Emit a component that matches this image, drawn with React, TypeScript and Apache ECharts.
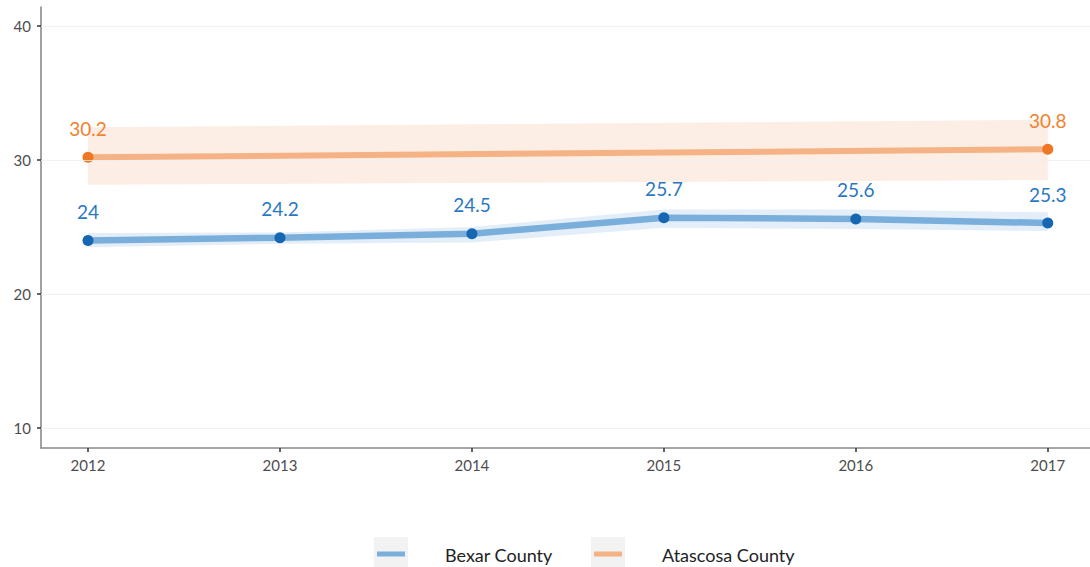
import React, { useEffect, useRef } from "react";
import * as echarts from "echarts";

const years = [2012, 2013, 2014, 2015, 2016, 2017];
const bexar = [24, 24.2, 24.5, 25.7, 25.6, 25.3];
const bexarLow = [23.5, 23.75, 23.85, 24.95, 24.85, 24.7];
const bexarHigh = [24.55, 24.6, 25.0, 26.3, 26.3, 26.1];
const atascosaYears = [2012, 2017];
const atascosa = [30.2, 30.8];
const atascosaLow = [28.15, 28.5];
const atascosaHigh = [32.45, 33.0];
const yTicks = [10, 20, 30, 40];
const seriesNames = ["Bexar County", "Atascosa County"];

const FONT = "Lato, 'Noto Sans', sans-serif";
const BLUE_LINE = "#7aaedb";
const BLUE_DOT = "#1666b2";
const BLUE_LABEL = "#2a78c2";
const BLUE_BAND = "#e3eef8";
const OR_LINE = "#f4b285";
const OR_DOT = "#ee7726";
const OR_LABEL = "#f0822f";
const OR_BAND = "#fdeee5";

function bandSeries(xs: number[], lo: number[], hi: number[], color: string) {
  return {
    type: "custom",
    silent: true,
    z: 1,
    data: xs.map((x, i) => [x, lo[i], hi[i]]),
    encode: { x: 0, y: [1, 2] },
    renderItem: (params: any, api: any) => {
      if (params.dataIndex !== 0) return { type: "group", children: [] };
      const upper = xs.map((x, i) => api.coord([x, hi[i]]));
      const lower = xs.map((x, i) => api.coord([x, lo[i]])).reverse();
      return {
        type: "polygon",
        shape: { points: upper.concat(lower) },
        style: { fill: color, stroke: "none" },
      };
    },
  };
}

export default function App() {
  const ref = useRef<HTMLDivElement>(null);
  useEffect(() => {
    if (!ref.current) return;
    const chart = echarts.init(ref.current, null, { renderer: "svg" });
    const pair = (xs: number[], ys: number[]) => xs.map((x, i) => [x, ys[i]]);

    const labelCfg = (color: string) => ({
      show: true,
      position: "top",
      distance: 14,
      color,
      fontSize: 19,
      fontFamily: FONT,
    });

    chart.setOption({
      animation: false,
      grid: { left: 41, right: 0, top: 7, bottom: 119, containLabel: false },
      xAxis: {
        type: "value",
        min: 2011.755,
        max: 2017.22,
        axisLine: { show: true, lineStyle: { color: "#8a8a8a", width: 1.6 } },
        axisTick: {
          show: true,
          length: 4,
          lineStyle: { color: "#333", width: 1.5 },
          customValues: years,
        },
        axisLabel: {
          color: "#4d4d4d",
          fontSize: 15,
          fontFamily: FONT,
          margin: 9,
          customValues: years,
          formatter: (v: number) => String(v),
        },
        splitLine: { show: false },
      },
      yAxis: {
        type: "value",
        min: 8.51,
        max: 41.42,
        axisLine: { show: true, lineStyle: { color: "#8a8a8a", width: 1.6 } },
        axisTick: {
          show: true,
          length: 4,
          lineStyle: { color: "#333", width: 1.5 },
          customValues: yTicks,
        },
        axisLabel: {
          color: "#4d4d4d",
          fontSize: 15,
          fontFamily: FONT,
          margin: 10,
          customValues: yTicks,
        },
        splitLine: { show: false },
      },
      series: [
        bandSeries(atascosaYears, atascosaLow, atascosaHigh, OR_BAND),
        bandSeries(years, bexarLow, bexarHigh, BLUE_BAND),
        {
          type: "line",
          name: "grid",
          data: [],
          silent: true,
          z: 2,
          markLine: {
            silent: true,
            symbol: "none",
            label: { show: false },
            lineStyle: { color: "#eeeeee", width: 1, type: "solid", opacity: 0.8 },
            data: yTicks.map((t) => ({ yAxis: t })),
          },
        },
        {
          type: "line",
          name: seriesNames[1],
          data: pair(atascosaYears, atascosa),
          symbol: "circle",
          symbolSize: 11,
          showAllSymbol: true,
          lineStyle: { color: OR_LINE, width: 6 },
          itemStyle: { color: OR_DOT },
          label: labelCfg(OR_LABEL),
          z: 3,
        },
        {
          type: "line",
          name: seriesNames[0],
          data: pair(years, bexar),
          symbol: "circle",
          symbolSize: 11,
          showAllSymbol: true,
          lineStyle: { color: BLUE_LINE, width: 6.5 },
          itemStyle: { color: BLUE_DOT },
          label: labelCfg(BLUE_LABEL),
          z: 3,
        },
      ],
      graphic: [
        { type: "rect", shape: { x: 374, y: 537, width: 34, height: 30 }, style: { fill: "#f2f2f2" } },
        { type: "line", shape: { x1: 377, y1: 554, x2: 405, y2: 554 }, style: { stroke: BLUE_LINE, lineWidth: 5 } },
        {
          type: "text",
          x: 445,
          y: 555,
          style: { text: seriesNames[0], fill: "#222", fontSize: 18, fontFamily: FONT, verticalAlign: "middle", align: "left" },
        },
        { type: "rect", shape: { x: 591, y: 537, width: 34, height: 30 }, style: { fill: "#f2f2f2" } },
        { type: "line", shape: { x1: 594, y1: 554, x2: 622, y2: 554 }, style: { stroke: OR_LINE, lineWidth: 5 } },
        {
          type: "text",
          x: 662,
          y: 555,
          style: { text: seriesNames[1], fill: "#222", fontSize: 18, fontFamily: FONT, verticalAlign: "middle", align: "left" },
        },
      ],
    });
    return () => chart.dispose();
  }, []);
  return (
    <div
      ref={ref}
      style={{ position: "absolute", left: 0, top: 0, width: 1090, height: 567, background: "#fff" }}
    />
  );
}
